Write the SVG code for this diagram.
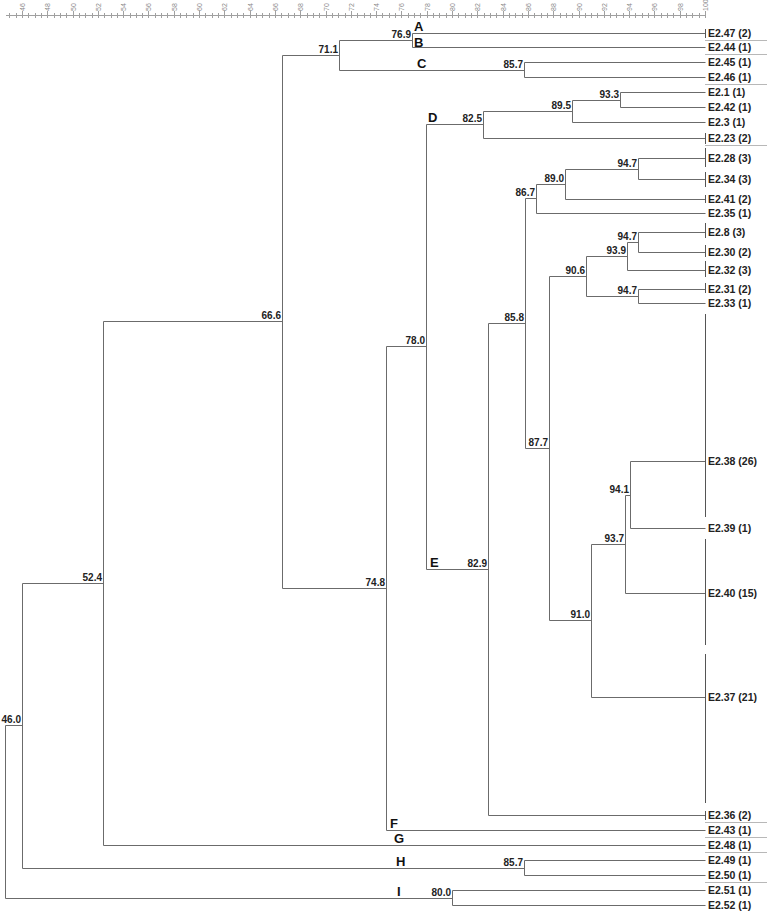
<svg xmlns="http://www.w3.org/2000/svg" width="767" height="915" viewBox="0 0 767 915">
<style>
.br{fill:none;stroke:#6b6b6b;stroke-width:1}
.bar{stroke:#555;stroke-width:1}
.sep{stroke:#b8b8b8;stroke-width:1}
.lf{font-family:"Liberation Sans",Arial,sans-serif;font-weight:bold;font-size:10.5px;fill:#222}
.val{font-family:"Liberation Sans",Arial,sans-serif;font-weight:bold;font-size:10px;fill:#222;text-anchor:end}
.grp{font-family:"Liberation Sans",Arial,sans-serif;font-weight:bold;font-size:13px;fill:#111}
.ax{font-family:"Liberation Sans",Arial,sans-serif;font-size:7px;fill:#8a8a8a}
.axl{fill:none;stroke:#a0a0a0;stroke-width:1}
</style>
<rect width="767" height="915" fill="#fff"/>
<g id="axis">
<path class="axl" d="M6 15.5H705"/>
<path class="axl" d="M9.5 13V18M16.5 13V18M22.5 11V18M28.5 13V18M35.5 13V18M41.5 13V18M47.5 11V18M54.5 13V18M60.5 13V18M66.5 13V18M73.5 11V18M79.5 13V18M85.5 13V18M92.5 13V18M98.5 11V18M104.5 13V18M111.5 13V18M117.5 13V18M123.5 11V18M130.5 13V18M136.5 13V18M142.5 13V18M148.5 11V18M155.5 13V18M161.5 13V18M167.5 13V18M174.5 11V18M180.5 13V18M186.5 13V18M193.5 13V18M199.5 11V18M205.5 13V18M212.5 13V18M218.5 13V18M224.5 11V18M231.5 13V18M237.5 13V18M243.5 13V18M250.5 11V18M256.5 13V18M262.5 13V18M269.5 13V18M275.5 11V18M281.5 13V18M288.5 13V18M294.5 13V18M300.5 11V18M307.5 13V18M313.5 13V18M319.5 13V18M326.5 11V18M332.5 13V18M338.5 13V18M345.5 13V18M351.5 11V18M357.5 13V18M364.5 13V18M370.5 13V18M376.5 11V18M382.5 13V18M389.5 13V18M395.5 13V18M401.5 11V18M408.5 13V18M414.5 13V18M420.5 13V18M427.5 11V18M433.5 13V18M439.5 13V18M446.5 13V18M452.5 11V18M458.5 13V18M465.5 13V18M471.5 13V18M477.5 11V18M484.5 13V18M490.5 13V18M496.5 13V18M503.5 11V18M509.5 13V18M515.5 13V18M522.5 13V18M528.5 11V18M534.5 13V18M541.5 13V18M547.5 13V18M553.5 11V18M560.5 13V18M566.5 13V18M572.5 13V18M579.5 11V18M585.5 13V18M591.5 13V18M597.5 13V18M604.5 11V18M610.5 13V18M616.5 13V18M623.5 13V18M629.5 11V18M635.5 13V18M642.5 13V18M648.5 13V18M654.5 11V18M661.5 13V18M667.5 13V18M673.5 13V18M680.5 11V18M686.5 13V18M692.5 13V18M699.5 13V18M705.5 11V18"/>
<text class="ax" transform="translate(25,11) rotate(-90)">46</text>
<text class="ax" transform="translate(50,11) rotate(-90)">48</text>
<text class="ax" transform="translate(76,11) rotate(-90)">50</text>
<text class="ax" transform="translate(101,11) rotate(-90)">52</text>
<text class="ax" transform="translate(126,11) rotate(-90)">54</text>
<text class="ax" transform="translate(151,11) rotate(-90)">56</text>
<text class="ax" transform="translate(177,11) rotate(-90)">58</text>
<text class="ax" transform="translate(202,11) rotate(-90)">60</text>
<text class="ax" transform="translate(227,11) rotate(-90)">62</text>
<text class="ax" transform="translate(253,11) rotate(-90)">64</text>
<text class="ax" transform="translate(278,11) rotate(-90)">66</text>
<text class="ax" transform="translate(303,11) rotate(-90)">68</text>
<text class="ax" transform="translate(329,11) rotate(-90)">70</text>
<text class="ax" transform="translate(354,11) rotate(-90)">72</text>
<text class="ax" transform="translate(379,11) rotate(-90)">74</text>
<text class="ax" transform="translate(404,11) rotate(-90)">76</text>
<text class="ax" transform="translate(430,11) rotate(-90)">78</text>
<text class="ax" transform="translate(455,11) rotate(-90)">80</text>
<text class="ax" transform="translate(480,11) rotate(-90)">82</text>
<text class="ax" transform="translate(506,11) rotate(-90)">84</text>
<text class="ax" transform="translate(531,11) rotate(-90)">86</text>
<text class="ax" transform="translate(556,11) rotate(-90)">88</text>
<text class="ax" transform="translate(582,11) rotate(-90)">90</text>
<text class="ax" transform="translate(607,11) rotate(-90)">92</text>
<text class="ax" transform="translate(632,11) rotate(-90)">94</text>
<text class="ax" transform="translate(657,11) rotate(-90)">96</text>
<text class="ax" transform="translate(683,11) rotate(-90)">98</text>
<text class="ax" transform="translate(708,11) rotate(-90)">100</text>
</g>
<g id="connectors">
<path class="br" d="M5.5 725.5V898.5M5.5 725.5H22.5M5.5 898.5H452.5"/>
<path class="br" d="M22.5 583.5V868.5M22.5 583.5H103.5M22.5 868.5H524.5"/>
<path class="br" d="M103.5 321.5V845.5H705.5M103.5 321.5H282.5"/>
<path class="br" d="M282.5 55.5V588.5H386.5M282.5 55.5H339.5"/>
<path class="br" d="M339.5 40.5V70.5H524.5M339.5 40.5H412.5"/>
<path class="br" d="M412.5 33.5V47.5H705.5M412.5 33.5H705.5"/>
<path class="br" d="M524.5 62.5V77.5H705.5M524.5 62.5H705.5"/>
<path class="br" d="M386.5 346.5V830.5H705.5M386.5 346.5H426.5"/>
<path class="br" d="M426.5 124.5V569.5H488.5M426.5 124.5H483.5"/>
<path class="br" d="M483.5 111.5V138.5H705.5M483.5 111.5H572.5"/>
<path class="br" d="M572.5 100.5V122.5H705.5M572.5 100.5H620.5"/>
<path class="br" d="M620.5 92.5V107.5H705.5M620.5 92.5H705.5"/>
<path class="br" d="M488.5 323.5V815.5H705.5M488.5 323.5H525.5"/>
<path class="br" d="M525.5 198.5V448.5H549.5M525.5 198.5H536.5"/>
<path class="br" d="M536.5 184.5V213.5H705.5M536.5 184.5H565.5"/>
<path class="br" d="M565.5 169.5V199.5H705.5M565.5 169.5H638.5"/>
<path class="br" d="M638.5 158.5V179.5H705.5M638.5 158.5H705.5"/>
<path class="br" d="M549.5 276.5V620.5H591.5M549.5 276.5H586.5"/>
<path class="br" d="M586.5 256.5V296.5H638.5M586.5 256.5H627.5"/>
<path class="br" d="M627.5 242.5V270.5H705.5M627.5 242.5H638.5"/>
<path class="br" d="M638.5 232.5V252.5H705.5M638.5 232.5H705.5"/>
<path class="br" d="M638.5 289.5V303.5H705.5M638.5 289.5H705.5"/>
<path class="br" d="M591.5 544.5V697.5H705.5M591.5 544.5H625.5"/>
<path class="br" d="M625.5 495.5V593.5H705.5M625.5 495.5H630.5"/>
<path class="br" d="M630.5 461.5V528.5H705.5M630.5 461.5H705.5"/>
<path class="br" d="M524.5 860.5V875.5H705.5M524.5 860.5H705.5"/>
<path class="br" d="M452.5 890.5V905.5H705.5M452.5 890.5H705.5"/>
</g>
<g id="separators">
<path class="sep" d="M705 40.5H767M705 54.5H767M705 84.5H767M705 145.5H767M705 822.5H767M705 837.5H767M705 852.5H767M705 882.5H767"/>
</g>
<g id="node-values">
<text class="val" x="21" y="723">46.0</text>
<text class="val" x="102" y="581">52.4</text>
<text class="val" x="281" y="319">66.6</text>
<text class="val" x="338" y="53">71.1</text>
<text class="val" x="411" y="38">76.9</text>
<text class="val" x="523" y="68">85.7</text>
<text class="val" x="619" y="98">93.3</text>
<text class="val" x="571" y="109">89.5</text>
<text class="val" x="482" y="122">82.5</text>
<text class="val" x="425" y="344">78.0</text>
<text class="val" x="385" y="586">74.8</text>
<text class="val" x="487" y="567">82.9</text>
<text class="val" x="524" y="321">85.8</text>
<text class="val" x="535" y="196">86.7</text>
<text class="val" x="564" y="182">89.0</text>
<text class="val" x="637" y="167">94.7</text>
<text class="val" x="637" y="240">94.7</text>
<text class="val" x="626" y="254">93.9</text>
<text class="val" x="585" y="274">90.6</text>
<text class="val" x="637" y="294">94.7</text>
<text class="val" x="548" y="446">87.7</text>
<text class="val" x="590" y="618">91.0</text>
<text class="val" x="624" y="542">93.7</text>
<text class="val" x="629" y="493">94.1</text>
<text class="val" x="523" y="866">85.7</text>
<text class="val" x="451" y="896">80.0</text>
</g>
<g id="groups">
<text class="grp" x="414" y="31">A</text>
<text class="grp" x="414" y="47">B</text>
<text class="grp" x="417" y="68">C</text>
<text class="grp" x="428" y="122">D</text>
<text class="grp" x="430" y="567">E</text>
<text class="grp" x="390" y="828">F</text>
<text class="grp" x="394" y="843">G</text>
<text class="grp" x="396" y="866">H</text>
<text class="grp" x="397" y="896">I</text>
</g>
<g id="leaf-E2.47"><line class="bar" x1="705.5" y1="29" x2="705.5" y2="38"/><text class="lf" x="708" y="37">E2.47 (2)</text></g>
<g id="leaf-E2.44"><text class="lf" x="708" y="51">E2.44 (1)</text></g>
<g id="leaf-E2.45"><text class="lf" x="708" y="66">E2.45 (1)</text></g>
<g id="leaf-E2.46"><text class="lf" x="708" y="81">E2.46 (1)</text></g>
<g id="leaf-E2.1"><text class="lf" x="708" y="96">E2.1 (1)</text></g>
<g id="leaf-E2.42"><text class="lf" x="708" y="111">E2.42 (1)</text></g>
<g id="leaf-E2.3"><text class="lf" x="708" y="126">E2.3 (1)</text></g>
<g id="leaf-E2.23"><line class="bar" x1="705.5" y1="133" x2="705.5" y2="144"/><text class="lf" x="708" y="142">E2.23 (2)</text></g>
<g id="leaf-E2.28"><line class="bar" x1="705.5" y1="148" x2="705.5" y2="167"/><text class="lf" x="708" y="162">E2.28 (3)</text></g>
<g id="leaf-E2.34"><line class="bar" x1="705.5" y1="172" x2="705.5" y2="187"/><text class="lf" x="708" y="183">E2.34 (3)</text></g>
<g id="leaf-E2.41"><line class="bar" x1="705.5" y1="195" x2="705.5" y2="203"/><text class="lf" x="708" y="203">E2.41 (2)</text></g>
<g id="leaf-E2.35"><text class="lf" x="708" y="217">E2.35 (1)</text></g>
<g id="leaf-E2.8"><line class="bar" x1="705.5" y1="223" x2="705.5" y2="238"/><text class="lf" x="708" y="236">E2.8 (3)</text></g>
<g id="leaf-E2.30"><line class="bar" x1="705.5" y1="245" x2="705.5" y2="257"/><text class="lf" x="708" y="256">E2.30 (2)</text></g>
<g id="leaf-E2.32"><line class="bar" x1="705.5" y1="261" x2="705.5" y2="277"/><text class="lf" x="708" y="274">E2.32 (3)</text></g>
<g id="leaf-E2.31"><line class="bar" x1="705.5" y1="283" x2="705.5" y2="293"/><text class="lf" x="708" y="293">E2.31 (2)</text></g>
<g id="leaf-E2.33"><text class="lf" x="708" y="307">E2.33 (1)</text></g>
<g id="leaf-E2.38"><line class="bar" x1="705.5" y1="314" x2="705.5" y2="517"/><text class="lf" x="708" y="465">E2.38 (26)</text></g>
<g id="leaf-E2.39"><text class="lf" x="708" y="532">E2.39 (1)</text></g>
<g id="leaf-E2.40"><line class="bar" x1="705.5" y1="539" x2="705.5" y2="645"/><text class="lf" x="708" y="597">E2.40 (15)</text></g>
<g id="leaf-E2.37"><line class="bar" x1="705.5" y1="654" x2="705.5" y2="803"/><text class="lf" x="708" y="701">E2.37 (21)</text></g>
<g id="leaf-E2.36"><line class="bar" x1="705.5" y1="811" x2="705.5" y2="820"/><text class="lf" x="708" y="819">E2.36 (2)</text></g>
<g id="leaf-E2.43"><text class="lf" x="708" y="834">E2.43 (1)</text></g>
<g id="leaf-E2.48"><text class="lf" x="708" y="849">E2.48 (1)</text></g>
<g id="leaf-E2.49"><text class="lf" x="708" y="864">E2.49 (1)</text></g>
<g id="leaf-E2.50"><text class="lf" x="708" y="879">E2.50 (1)</text></g>
<g id="leaf-E2.51"><text class="lf" x="708" y="894">E2.51 (1)</text></g>
<g id="leaf-E2.52"><text class="lf" x="708" y="909">E2.52 (1)</text></g>
</svg>
